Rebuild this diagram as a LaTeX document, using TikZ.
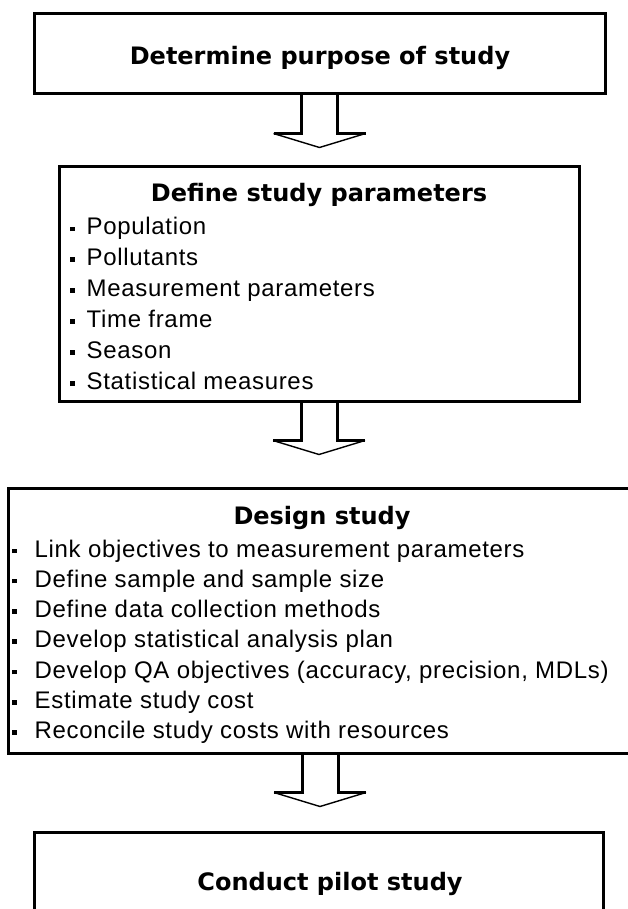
\documentclass[tikz,border=0pt]{standalone}
\usepackage{fontspec}
\setmainfont[LetterSpace=2.8]{Liberation Sans}
\newfontfamily\headfont{DejaVu Sans}
\newcommand{\sqdot}{\raisebox{4pt}{\rule{4.5pt}{4.5pt}}}

\tikzset{stage/.style={draw,line width=3pt,inner sep=0pt},
         headtext/.style={font=\headfont\bfseries\fontsize{24}{30}\selectfont,inner sep=0pt,anchor=base},
         item/.style={font=\fontsize{24}{30}\selectfont,inner sep=0pt,anchor=base west},
         shaftline/.style={line width=3pt},
         headline/.style={line width=1.4pt}}

\begin{document}
\begin{tikzpicture}[x=1pt,y=1pt]
        \useasboundingbox (0,0) rectangle (628,-909);
        \clip (0,0) rectangle (628,-909);
        % boxes
        \node[stage,minimum width=571,minimum height=80] (purpose) at (319.5,-54) {};
        \node[stage,minimum width=520,minimum height=234] (params) at (319,-284) {};
        \node[stage,minimum width=624,minimum height=265] (design) at (320,-620.5) {};
        \node[stage,minimum width=569,minimum height=128] (pilot) at (318.5,-896) {};
        % titles
        \node[headtext] (purposetext) at (320,-65) {Determine purpose of study};
        \node[headtext] (paramstext) at (319,-202) {Define study parameters};
        \node[headtext] (designtext) at (322,-524) {Design study};
        \node[headtext] (pilottext) at (330,-890) {Conduct pilot study};
        % bullet lists
        \foreach \txt [count=\i] in {Population,Pollutants,Measurement parameters,Time frame,Season,Statistical measures}
            \node[item] (param\i) at (70,{-235-30.9*(\i-1)}) {\sqdot\hspace{12pt}\txt};
        \foreach \txt [count=\i] in {Link objectives to measurement parameters,Define sample and sample size,Define data collection methods,Develop statistical analysis plan,{Develop QA objectives (accuracy, precision, MDLs)},Estimate study cost,Reconcile study costs with resources}
            \node[item] (step\i) at (12,{-557-30.33*(\i-1)}) {\sqdot\hspace{18pt}\txt};
        % block arrows
        \foreach \a in {purpose,params,design}{
            \draw[shaftline] ([xshift=-18pt]\a.south) -- ++(0,-38) -- ++(-28,0);
            \draw[shaftline] ([xshift=18pt]\a.south) -- ++(0,-38) -- ++(28,0);
            \draw[headline] ([shift={(-46pt,-38pt)}]\a.south) -- ++(46,-14) -- ++(46,14);
        }
    \end{tikzpicture}
\end{document}
